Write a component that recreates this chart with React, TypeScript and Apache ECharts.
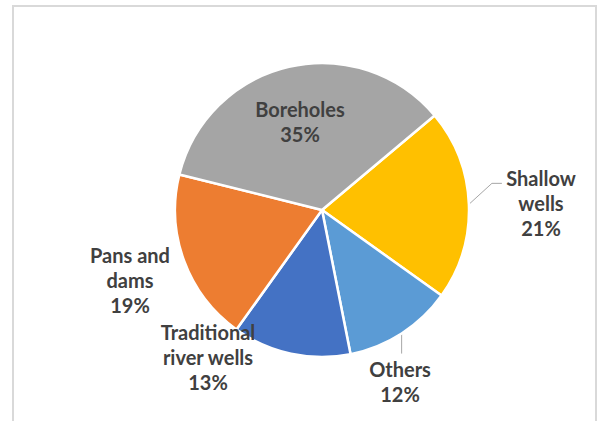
import React, { useEffect, useRef } from "react";
import * as echarts from "echarts";

const categories = ["Shallow\nwells", "Others", "Traditional\nriver wells", "Pans and\ndams", "Boreholes"];
const values = [21, 12, 13, 19, 35];
const colors = ["#FFC000", "#5B9BD5", "#4472C4", "#ED7D31", "#A5A5A5"];

// label block centres (layout, not data)
const labelPos: [number, number][] = [
  [541, 203],
  [400, 381],
  [208, 357],
  [130, 280],
  [300, 121],
];

export default function App() {
  const ref = useRef<HTMLDivElement>(null);
  useEffect(() => {
    if (!ref.current) return;
    const chart = echarts.init(ref.current, null, { renderer: "svg" });
    chart.setOption({
      animation: false,
      backgroundColor: "#ffffff",
      graphic: [
        {
          type: "rect",
          shape: { x: 13, y: 6, width: 583, height: 440 },
          style: { fill: "none", stroke: "#d9d9d9", lineWidth: 2 },
          silent: true,
        },
      ],
      series: [
        {
          type: "pie",
          center: [322, 210],
          radius: 147,
          startAngle: 40,
          clockwise: true,
          avoidLabelOverlap: false,
          itemStyle: { borderColor: "#ffffff", borderWidth: 2.5 },
          label: {
            show: true,
            position: "outside",
            formatter: (p: any) => `${p.name}\n${p.value}%`,
            fontFamily: "Lato, 'Liberation Sans', sans-serif",
            fontWeight: "bold",
            fontSize: 20,
            lineHeight: 25,
            color: "#404040",
            align: "center",
          },
          labelLine: { show: false, lineStyle: { color: "#a6a6a6", width: 1 } },
          labelLayout: (params: any) => {
            const i = params.dataIndex;
            const out: any = {
              x: labelPos[i][0],
              y: labelPos[i][1],
              align: "center",
              verticalAlign: "middle",
            };
            const pts = params.labelLinePoints;
            if (pts && pts.length) {
              const p0 = pts[0];
              if (i === 0) {
                out.labelLinePoints = [
                  [p0[0], p0[1]],
                  [p0[0] + 23, p0[1] - 21],
                  [p0[0] + 33, p0[1] - 21],
                ];
              } else if (i === 1) {
                out.labelLinePoints = [
                  [p0[0], p0[1]],
                  [p0[0], p0[1] + 20],
                ];
              }
            }
            return out;
          },
          data: values.map((v, i) => ({
            name: categories[i],
            value: v,
            itemStyle: { color: colors[i] },
            label: i === 4 ? { position: "inside" } : undefined,
            labelLine: i === 0 || i === 1 ? { show: true } : undefined,
          })),
        },
      ],
    });
    return () => chart.dispose();
  }, []);
  return (
    <div
      ref={ref}
      style={{ position: "fixed", left: 0, top: 0, width: 598, height: 421 }}
    />
  );
}
